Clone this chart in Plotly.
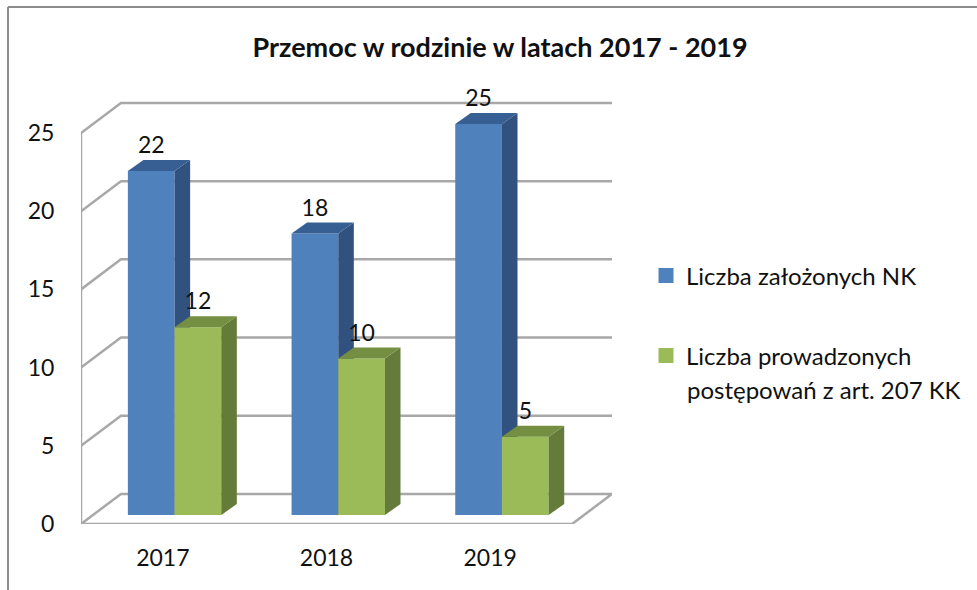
import plotly.graph_objects as go

# --- data -----------------------------------------------------------------
years = ["2017", "2018", "2019"]
series_nk_name = "Liczba założonych NK"
series_art_name_lines = ["Liczba prowadzonych", "postępowań z art. 207 KK"]
series_nk = [22, 18, 25]
series_art = [12, 10, 5]
y_ticks = [0, 5, 10, 15, 20, 25]
title_text = "Przemoc w rodzinie w latach 2017 - 2019"

# --- style / pseudo-3D projection (in axis units) ---------------------------
FONT = "Lato, Carlito, sans-serif"
TXT = "#111111"
GRID = "#a8a8a8"
WALL_DX, WALL_DY = 0.244, 1.92      # depth of the chart box
BAR_DX, BAR_DY = 0.095, 0.703       # depth of a bar
BAR_BASE = 0.575                    # bars stand part-way into the floor
BAR_W = 0.2853
OFF_NK, OFF_ART = -0.071, 0.2143
LABEL_GAP = 0.81
X_MIN, X_MAX_FRONT = -0.5, 2.5
X_MAX = X_MAX_FRONT + WALL_DX
Y_MAX = 29.476
M_L, M_R, M_T, M_B = 81, 365, 63, 66
W, H = 977, 590

xs = list(range(len(years)))
fig = go.Figure()

# --- box: walls, floor, grid (base axes) -------------------------------------
line = dict(color=GRID, width=2.5)
for t in y_ticks:
    gx = [X_MIN, X_MIN + WALL_DX, X_MAX]
    gy = [t, t + WALL_DY, t + WALL_DY]
    if t == 0:
        gx += [X_MAX_FRONT, X_MIN]
        gy += [0, 0]
    fig.add_trace(go.Scatter(x=gx, y=gy, mode="lines", line=line, cliponaxis=False,
                             showlegend=False, hoverinfo="skip"))
fig.add_trace(go.Scatter(x=[X_MIN, X_MIN], y=[y_ticks[0], y_ticks[-1]], mode="lines", line=line,
                         cliponaxis=False, showlegend=False, hoverinfo="skip"))


def add_series(values, offset, front, side, top, xa, ya, name):
    cx = [c + offset for c in xs]
    fig.add_trace(go.Bar(x=cx, y=values, base=BAR_BASE, width=BAR_W, marker=dict(color=front, line_width=0),
                         name=name, showlegend=False, xaxis=xa, yaxis=ya, hoverinfo="y"))
    for c, v in zip(cx, values):
        x0, x1 = c - BAR_W / 2, c + BAR_W / 2
        yt = BAR_BASE + v
        fig.add_trace(go.Scatter(
            x=[x1, x1 + BAR_DX, x1 + BAR_DX, x1, x1],
            y=[BAR_BASE, BAR_BASE + BAR_DY, yt + BAR_DY, yt, BAR_BASE],
            mode="lines", fill="toself", fillcolor=side, line=dict(width=0, color=side),
            showlegend=False, hoverinfo="skip", xaxis=xa, yaxis=ya))
        fig.add_trace(go.Scatter(
            x=[x0, x0 + BAR_DX, x1 + BAR_DX, x1, x0],
            y=[yt, yt + BAR_DY, yt + BAR_DY, yt, yt],
            mode="lines", fill="toself", fillcolor=top, line=dict(width=0, color=top),
            showlegend=False, hoverinfo="skip", xaxis=xa, yaxis=ya))
    fig.add_trace(go.Scatter(
        x=cx, y=[BAR_BASE + v + BAR_DY + LABEL_GAP for v in values], text=[str(v) for v in values],
        mode="text", textposition="middle center", textfont=dict(family=FONT, size=23, color=TXT),
        cliponaxis=False, showlegend=False, hoverinfo="skip", xaxis=xa, yaxis=ya))


add_series(series_nk, OFF_NK, "#4f81bd", "#31527f", "#385f93", "x2", "y2", series_nk_name)
add_series(series_art, OFF_ART, "#9bbb59", "#657b3a", "#748f41", "x3", "y3", " ".join(series_art_name_lines))

# --- legend entries ----------------------------------------------------------
LEG_SIZE = 24
fig.add_trace(go.Scatter(x=[None], y=[None], mode="markers", name=series_nk_name,
                         marker=dict(symbol="square", size=15, color="#4f81bd"), legend="legend"))
fig.add_trace(go.Scatter(x=[None], y=[None], mode="markers", name=series_art_name_lines[0],
                         marker=dict(symbol="square", size=15, color="#9bbb59"), legend="legend2"))

PW, PH = W - M_L - M_R, H - M_T - M_B
px = lambda p: (p - M_L) / PW
py = lambda p: (H - M_B - p) / PH
legend_style = dict(font=dict(family=FONT, size=LEG_SIZE, color=TXT), bgcolor="rgba(0,0,0,0)",
                    borderwidth=0, xanchor="left", yanchor="middle", itemclick=False, itemdoubleclick=False)

hidden = dict(visible=False, range=[X_MIN, X_MAX], fixedrange=True)
hiddeny = dict(visible=False, range=[0, Y_MAX], fixedrange=True)
frame = dict(color="#8c8c8c", width=2)

fig.update_layout(
    width=W, height=H, autosize=False,
    margin=dict(l=M_L, r=M_R, t=M_T, b=M_B, pad=0),
    paper_bgcolor="white", plot_bgcolor="rgba(0,0,0,0)",
    title=dict(text=f"<b>{title_text}</b>", x=500 / W, y=1 - 48 / H, xanchor="center", yanchor="middle",
               font=dict(family=FONT, size=27, color=TXT)),
    xaxis=dict(range=[X_MIN, X_MAX], tickvals=xs, ticktext=years, showgrid=False, zeroline=False,
               showline=False, ticks="outside", ticklen=13, tickcolor="rgba(0,0,0,0)",
               tickfont=dict(family=FONT, size=23, color=TXT), fixedrange=True),
    yaxis=dict(range=[0, Y_MAX], tickvals=y_ticks, showgrid=False, zeroline=False,
               showline=False, ticks="outside", ticklen=21, tickcolor="rgba(0,0,0,0)",
               tickfont=dict(family=FONT, size=23, color=TXT), fixedrange=True),
    xaxis2=dict(hidden, overlaying="x", anchor="y2"),
    yaxis2=dict(hiddeny, overlaying="y", anchor="x2"),
    xaxis3=dict(hidden, overlaying="x", anchor="y3"),
    yaxis3=dict(hiddeny, overlaying="y", anchor="x3"),
    legend=dict(legend_style, x=px(646), y=py(276)),
    legend2=dict(legend_style, x=px(646), y=py(356)),
    annotations=[dict(text=series_art_name_lines[1], xref="paper", yref="paper", x=px(685), y=py(389),
                      xanchor="left", yanchor="middle", showarrow=False,
                      font=dict(family=FONT, size=LEG_SIZE, color=TXT))],
    shapes=[
        dict(type="line", xref="paper", yref="paper", x0=px(8), x1=px(8), y0=py(7), y1=py(590), line=frame),
        dict(type="line", xref="paper", yref="paper", x0=px(8), x1=px(977), y0=py(7), y1=py(7), line=frame),
    ],
)

fig.write_html("out.html", config=dict(displayModeBar=False),
               post_script="document.body.style.margin='0';document.documentElement.style.overflow='hidden';")
